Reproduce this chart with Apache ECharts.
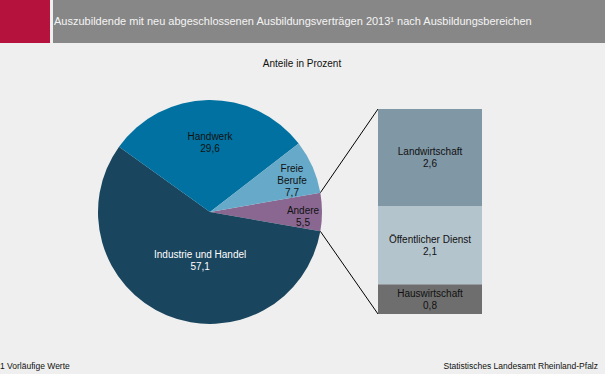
<!DOCTYPE html>
<html><head><meta charset="utf-8">
<script src="https://cdn.jsdelivr.net/npm/echarts@6/dist/echarts.min.js"></script>
<style>html,body{margin:0;padding:0;background:#EEEFEE;}#c{width:605px;height:374px;}</style>
</head><body><div id="c"></div>
<script>
// Pie data (order: Andere first, then clockwise)
const pieNames = ['Andere', 'Industrie und Handel', 'Handwerk', 'Freie Berufe'];
const pieLabels = ['Andere', 'Industrie und Handel', 'Handwerk', 'Freie\nBerufe'];
const pieValues = [5.5, 57.1, 29.6, 7.7];
const pieColors = ['#8A6791', '#1A455E', '#0071A0', '#66A9C9'];
// Breakdown of "Andere" (bottom to top)
const barNames = ['Hauswirtschaft', 'Öffentlicher Dienst', 'Landwirtschaft'];
const barValues = [0.8, 2.1, 2.6];
const barColors = ['#6E6E6E', '#B4C4CD', '#8097A6'];

const titleText = 'Auszubildende mit neu abgeschlossenen Ausbildungsverträgen 2013¹ nach Ausbildungsbereichen';
const subTitle = 'Anteile in Prozent';
const footLeft = '1 Vorläufige Werte';
const footRight = 'Statistisches Landesamt Rheinland-Pfalz';

const FONT = '"Liberation Sans", Arial, sans-serif';
const fmt = v => v.toFixed(1).replace('.', ',');

const chart = echarts.init(document.getElementById('c'), null, {renderer: 'svg'});
const pieCenter = [210, 212], pieR = 112, startAngle = 9.9;
const labelShift = [[17, 2], [6.5, -3], [0.5, -5.5], [14, -4]];

const option = {
  backgroundColor: '#EEEFEE',
  animation: false,
  grid: {left: 378, top: 109, width: 104, height: 205},
  xAxis: {type: 'category', data: ['Andere'], show: false},
  yAxis: {type: 'value', min: 0, max: barValues.reduce((a, b) => a + b, 0), show: false},
  series: [
    {
      type: 'pie', center: pieCenter, radius: pieR, startAngle: startAngle, clockwise: true,
      silent: true, emphasis: {disabled: true},
      data: pieValues.map((v, i) => ({
        value: v, name: pieNames[i],
        itemStyle: {color: pieColors[i]},
        label: {color: i === 1 ? '#FFFFFF' : '#111111'}
      })),
      label: {
        position: 'inside', fontFamily: FONT, fontSize: 10, lineHeight: 12,
        formatter: p => pieLabels[p.dataIndex] + '\n' + fmt(p.value)
      },
      labelLine: {show: false},
      labelLayout: p => ({dx: labelShift[p.dataIndex][0], dy: labelShift[p.dataIndex][1]})
    },
    ...barValues.map((v, i) => ({
      type: 'bar', stack: 'a', name: barNames[i], data: [v],
      barWidth: '100%', silent: true,
      itemStyle: {color: barColors[i]},
      label: {
        show: true, position: 'inside', fontFamily: FONT, fontSize: 10, lineHeight: 12,
        color: '#111111', formatter: p => barNames[i] + '\n' + fmt(p.value)
      }
    }))
  ],
  graphic: [
    {type: 'rect', shape: {x: 0, y: 0, width: 50, height: 43}, style: {fill: '#B5123E'}, silent: true},
    {type: 'rect', shape: {x: 53, y: 0, width: 552, height: 43}, style: {fill: '#878787'}, silent: true},
    {type: 'text', x: 54, y: 21, style: {text: titleText, fill: '#F4F4F4', font: '11px ' + FONT, textVerticalAlign: 'middle'}},
    {type: 'text', x: 302, y: 63, style: {text: subTitle, fill: '#111', font: '10px ' + FONT, textAlign: 'center', textVerticalAlign: 'middle'}},
    {type: 'text', x: 0, y: 366, style: {text: footLeft, fill: '#111', font: '8.5px ' + FONT, textVerticalAlign: 'middle'}},
    {type: 'text', x: 598, y: 366, style: {text: footRight, fill: '#111', font: '8.5px ' + FONT, textAlign: 'right', textVerticalAlign: 'middle'}}
  ]
};
chart.setOption(option);

// connector lines from the "Andere" slice edge to the stacked bar
const total = pieValues.reduce((a, b) => a + b, 0);
const a1 = startAngle * Math.PI / 180;
const a2 = (startAngle - 360 * pieValues[0] / total) * Math.PI / 180;
const p1 = [pieCenter[0] + pieR * Math.cos(a1), pieCenter[1] - pieR * Math.sin(a1)];
const p2 = [pieCenter[0] + pieR * Math.cos(a2), pieCenter[1] - pieR * Math.sin(a2)];
const gridRect = chart.getModel().getComponent('grid').coordinateSystem.getRect();
const barTop = chart.convertToPixel({gridIndex: 0}, ['Andere', barValues.reduce((a, b) => a + b, 0)])[1];
const barBot = chart.convertToPixel({gridIndex: 0}, ['Andere', 0])[1];
chart.setOption({
  graphic: option.graphic.concat([
    {type: 'line', shape: {x1: p1[0], y1: p1[1], x2: gridRect.x, y2: barTop}, style: {stroke: '#000', lineWidth: 1}, silent: true},
    {type: 'line', shape: {x1: p2[0], y1: p2[1], x2: gridRect.x, y2: barBot}, style: {stroke: '#000', lineWidth: 1}, silent: true}
  ])
});
</script></body></html>
